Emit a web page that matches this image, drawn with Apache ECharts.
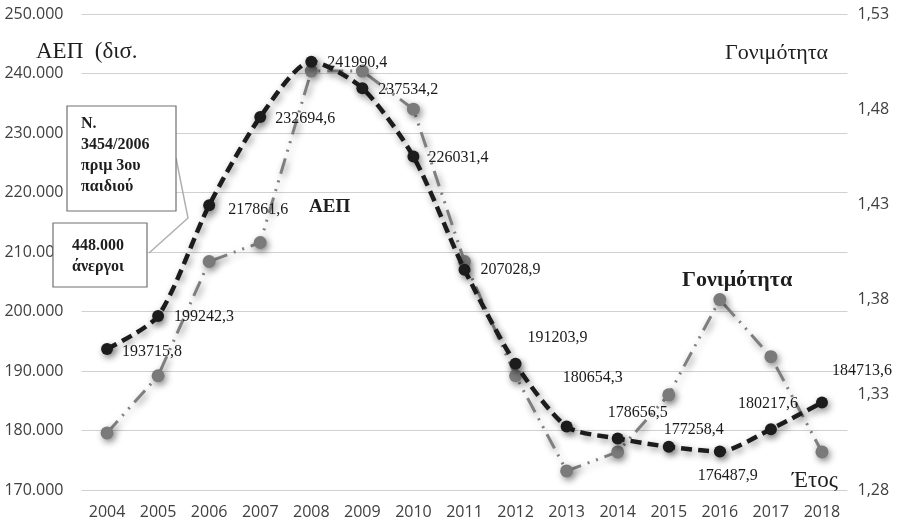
<!DOCTYPE html>
<html>
<head>
<meta charset="utf-8">
<script src="https://cdn.jsdelivr.net/npm/echarts@6/dist/echarts.min.js"></script>
<style>
  html, body { margin: 0; padding: 0; background: #fff; }
  #chart { width: 898px; height: 526px; }
</style>
</head>
<body>
<div id="chart"></div>
<script>
// Years on the category axis
const years = ['2004','2005','2006','2007','2008','2009','2010','2011','2012','2013','2014','2015','2016','2017','2018'];

// GDP (million euro), left axis
const gdp = [193715.8, 199242.3, 217861.6, 232694.6, 241990.4, 237534.2, 226031.4, 207028.9,
             191203.9, 180654.3, 178656.5, 177258.4, 176487.9, 180217.6, 184713.6];

// Total fertility rate, right axis
const fertility = [1.31, 1.34, 1.40, 1.41, 1.50, 1.50, 1.48, 1.40, 1.34, 1.29, 1.30, 1.33, 1.38, 1.35, 1.30];

// Axis ranges
const gdpAxis = { min: 170000, max: 250000, step: 10000 };
const rateAxis = { min: 1.28, max: 1.53, step: 0.05 };

// Where each GDP value label sits relative to its point [dx to left edge, dy]
const gdpLabelOffsets = [
  [15, 3], [16, 1], [19, 5], [15, 2], [16, 1], [16, 2], [15, 1], [16, 0],
  [12, -26], [-4, -49], [-10, -26], [-5, -17], [-22, 24], [-33, -25], [10, -32]
];

const serif = '"Liberation Serif", "DejaVu Serif", serif';
const sans = '"Open Sans", "Liberation Sans", sans-serif';

const fmtThousands = v => {
  const s = Math.round(v).toString();
  return s.replace(/\B(?=(\d{3})+(?!\d))/g, '.');
};
const fmtComma = v => v.toFixed(2).replace('.', ',');
const fmtGdp = v => v.toFixed(1).replace('.', ',');

const shadow = {
  shadowColor: 'rgba(0,0,0,0.45)',
  shadowBlur: 7,
  shadowOffsetX: 2,
  shadowOffsetY: 3
};

// plain serif text placed on the canvas
function note(text, left, top, size, bold, extra) {
  return Object.assign({
    type: 'text', z: 12, left: left, top: top,
    style: {
      text: text,
      fontFamily: serif,
      fontSize: size,
      fontWeight: bold ? 'bold' : 'normal',
      fill: '#1e1e1e'
    }
  }, extra || {});
}

const chart = echarts.init(document.getElementById('chart'), null, { renderer: 'canvas' });

const boxText1 = note('Ν.\n3454/2006\nπριμ 3ου\nπαιδιού', 81, 113, 16, true);
boxText1.style.lineHeight = 21;
const boxText2 = note('448.000\nάνεργοι', 72, 235, 16, true);
boxText2.style.lineHeight = 21;

chart.setOption({
  animation: false,
  backgroundColor: '#ffffff',
  grid: { left: 81.5, right: 50.5, top: 14, bottom: 36, containLabel: false },
  xAxis: {
    type: 'category',
    data: years,
    boundaryGap: true,
    axisLine: { show: false },
    axisTick: { show: false },
    axisLabel: { color: '#404040', fontFamily: sans, fontSize: 16, margin: 14 }
  },
  yAxis: [
    {
      type: 'value',
      min: gdpAxis.min,
      max: gdpAxis.max,
      interval: gdpAxis.step,
      axisLine: { show: false },
      axisTick: { show: false },
      axisLabel: { color: '#404040', fontFamily: sans, fontSize: 16, margin: 18, formatter: fmtThousands },
      splitLine: { lineStyle: { color: '#d0d0d0', width: 1.2 } }
    },
    {
      type: 'value',
      position: 'right',
      min: rateAxis.min,
      max: rateAxis.max,
      interval: rateAxis.step,
      axisLine: { show: false },
      axisTick: { show: false },
      axisLabel: { color: '#404040', fontFamily: sans, fontSize: 16, margin: 10, formatter: fmtComma },
      splitLine: { show: false }
    }
  ],
  series: [
    {
      name: 'Γονιμότητα',
      type: 'line',
      yAxisIndex: 1,
      data: fertility,
      symbol: 'circle',
      symbolSize: 13,
      z: 2,
      lineStyle: Object.assign({ color: '#7f7f7f', width: 3, type: [16, 7, 2, 7, 2, 7] }, shadow),
      itemStyle: Object.assign({ color: '#7a7a7a' }, shadow)
    },
    {
      name: 'ΑΕΠ',
      type: 'line',
      yAxisIndex: 0,
      data: gdp.map((v, i) => ({
        value: v,
        label: { offset: gdpLabelOffsets[i] }
      })),
      smooth: 0.25,
      symbol: 'circle',
      symbolSize: 12,
      z: 3,
      lineStyle: Object.assign({ color: '#1c1c1c', width: 4.5, type: [11, 6] }, shadow),
      itemStyle: Object.assign({ color: '#1c1c1c' }, shadow),
      label: {
        show: true,
        position: 'inside',
        align: 'left',
        verticalAlign: 'middle',
        color: '#1a1a1a',
        fontFamily: serif,
        fontSize: 16,
        formatter: p => fmtGdp(p.value)
      }
    }
  ],
  graphic: [
    // callout pointers
    { type: 'polyline', z: 10, shape: { points: [[176, 158], [188, 218], [149, 253]] },
      style: { stroke: '#b0b0b0', lineWidth: 1.5, fill: null } },
    // boxes
    { type: 'rect', z: 11, shape: { x: 67, y: 106, width: 109, height: 105 },
      style: { fill: '#ffffff', stroke: '#707070', lineWidth: 1.2 } },
    boxText1,
    { type: 'rect', z: 11, shape: { x: 53, y: 223, width: 94, height: 64 },
      style: { fill: '#ffffff', stroke: '#707070', lineWidth: 1.2 } },
    boxText2,
    // axis and series titles
    note('ΑΕΠ  (δισ.', 36, 40, 23, false),
    note('Γονιμότητα', 725, 42, 22, false),
    note('ΑΕΠ', 309, 198, 19, true),
    note('Γονιμότητα', 682, 269, 22, true),
    note('Έτος', 792, 469, 23, false)
  ]
});
</script>
</body>
</html>
